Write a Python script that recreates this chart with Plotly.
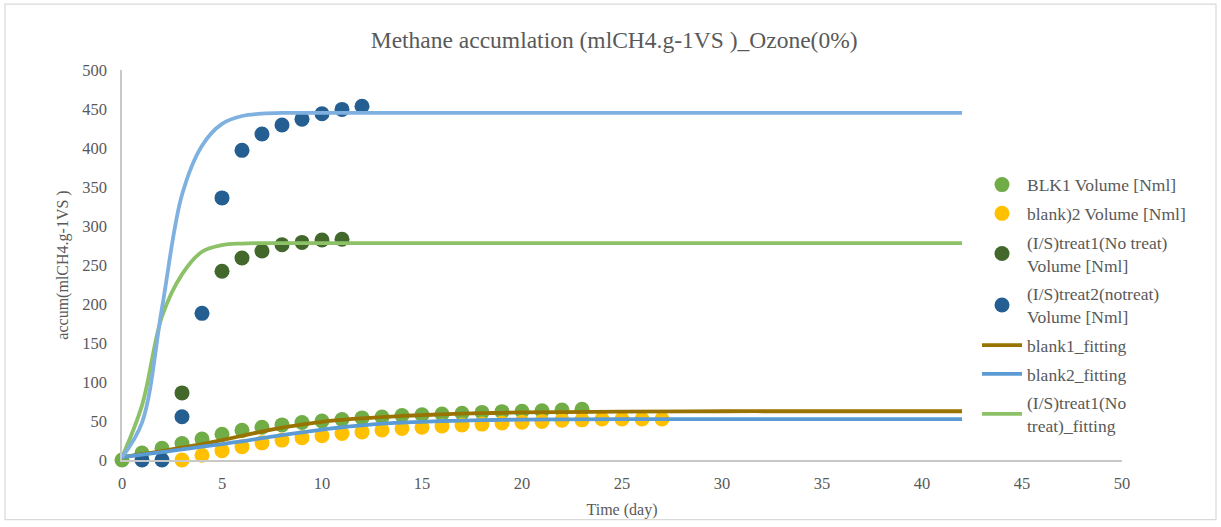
import plotly.graph_objects as go

# ---------------- data ----------------
blk1_days = list(range(0, 24))
blk1_vol = [0, 9, 15, 21, 27, 33, 38, 42, 45, 48, 50, 52, 54, 55, 57, 58, 59, 60, 61, 62, 62.5, 63, 64, 65]

blank2_days = list(range(3, 28))
blank2_vol = [0, 6, 12, 17, 22, 25.5, 28.5, 31, 34, 36, 38.5, 40.5, 42, 43.5, 45, 46, 47.5, 48.5, 49.5, 51, 51.5, 52.5, 52.5, 52.5, 52.5]

treat1_days = [3, 5, 6, 7, 8, 9, 10, 11]
treat1_vol = [86, 242, 259, 268, 276, 279, 282, 283]

treat2_days = list(range(1, 13))
treat2_vol = [0, 0, 55.5, 188, 336, 397, 418, 429.5, 437, 444, 449.5, 453.5]

fit_days = list(range(0, 14)) + [14, 15, 16, 17, 18, 19, 20, 22, 25, 30, 35, 42]
blank1_fit = [3.5, 7.5, 11.5, 16, 20.5, 25.5, 31, 36.5, 41.5, 45.5, 49, 51.5, 53.5, 55,
              56.5, 57.5, 58.5, 59.5, 60, 60.5, 61, 61.5, 62, 62.5, 62.5, 62.5]
blank2_fit = [3.5, 7, 10, 13.5, 17, 20.5, 24, 28, 32, 35.5, 39, 42, 44.5, 46.5,
              48, 49, 50, 50.5, 51, 51.5, 51.8, 52, 52.3, 52.5, 52.5, 52.5]
treat1_fit = [3.5, 70, 184, 238, 267, 275.5, 277.5, 278, 278, 278, 278, 278, 278, 278,
              278, 278, 278, 278, 278, 278, 278, 278, 278, 278, 278, 278]
treat2_fit = [3.5, 48, 195, 340, 403, 431, 441, 444, 445, 445, 445, 445, 445, 445,
              445, 445, 445, 445, 445, 445, 445, 445, 445, 445, 445, 445]

x_ticks = list(range(0, 51, 5))
y_ticks = list(range(0, 501, 50))

title_text = "Methane accumlation (mlCH4.g-1VS )_Ozone(0%)"
x_title = "Time (day)"
y_title = "accum(mlCH4.g-1VS )"

# ---------------- figure ----------------
FONT = "Liberation Serif, Times New Roman, serif"
GREY = "#595959"
MS = 15

fig = go.Figure()

def pts(x, y, name, color, grp):
    fig.add_trace(go.Scatter(x=x, y=y, mode="markers", name=name, legendgroup=grp,
                             marker=dict(size=MS, color=color, line=dict(width=0)),
                             cliponaxis=False))

def fit(x, y, name, color, grp, show=True):
    fig.add_trace(go.Scatter(x=x, y=y, mode="lines", name=name, legendgroup=grp,
                             showlegend=show,
                             line=dict(color=color, width=3.8, shape="spline", smoothing=1),
                             cliponaxis=False))

pts(blk1_days, blk1_vol, "BLK1 Volume [Nml]", "#70AD47", "a")
pts(blank2_days, blank2_vol, "blank)2 Volume [Nml]", "#FFC000", "b")
pts(treat1_days, treat1_vol, "(I/S)treat1(No treat)<br>Volume [Nml]", "#43682B", "c")
pts(treat2_days, treat2_vol, "(I/S)treat2(notreat)<br>Volume [Nml]", "#255E91", "d")
fit(fit_days, blank1_fit, "blank1_fitting", "#997300", "e")
fit(fit_days, blank2_fit, "blank2_fitting", "#5B9BD5", "f")
fit(fit_days, treat1_fit, "(I/S)treat1(No<br>treat)_fitting", "#8CC168", "g")
fit(fit_days, treat2_fit, "(I/S)treat2_fitting", "#7EB0E0", "h", show=False)

axis_common = dict(showgrid=False, zeroline=False, showline=True, linecolor="#C8C8C8",
                   linewidth=1.5, ticks="", tickfont=dict(family=FONT, size=16.5, color=GREY))

fig.update_layout(
    width=1221, height=527,
    margin=dict(l=122, r=99, t=70, b=67),
    paper_bgcolor="white", plot_bgcolor="white",
    font=dict(family=FONT, color=GREY),
    title=dict(text=title_text, x=0.503, xanchor="center", y=0.924, yanchor="middle",
               font=dict(family=FONT, size=23.5, color=GREY)),
    xaxis=dict(range=[0, 50], tickvals=x_ticks, ticklabelstandoff=7,
               title=dict(text=x_title, font=dict(family=FONT, size=16, color=GREY), standoff=12),
               **axis_common),
    yaxis=dict(range=[0, 500], tickvals=y_ticks, ticklabelstandoff=10,
               title=dict(text=y_title, font=dict(family=FONT, size=16, color=GREY), standoff=10),
               **axis_common),
    legend=dict(x=0.855, xanchor="left", y=0.752, yanchor="top", bgcolor="rgba(0,0,0,0)",
                font=dict(family=FONT, size=17.5, color=GREY), tracegroupgap=3,
                traceorder="grouped", itemwidth=40),
    shapes=[dict(type="rect", xref="paper", yref="paper", x0=-0.117, x1=1.094, y0=-0.153, y1=1.169,
                 line=dict(color="#D9D9D9", width=1.2), fillcolor="rgba(0,0,0,0)", layer="below")],
)

fig.write_html("out.html")
